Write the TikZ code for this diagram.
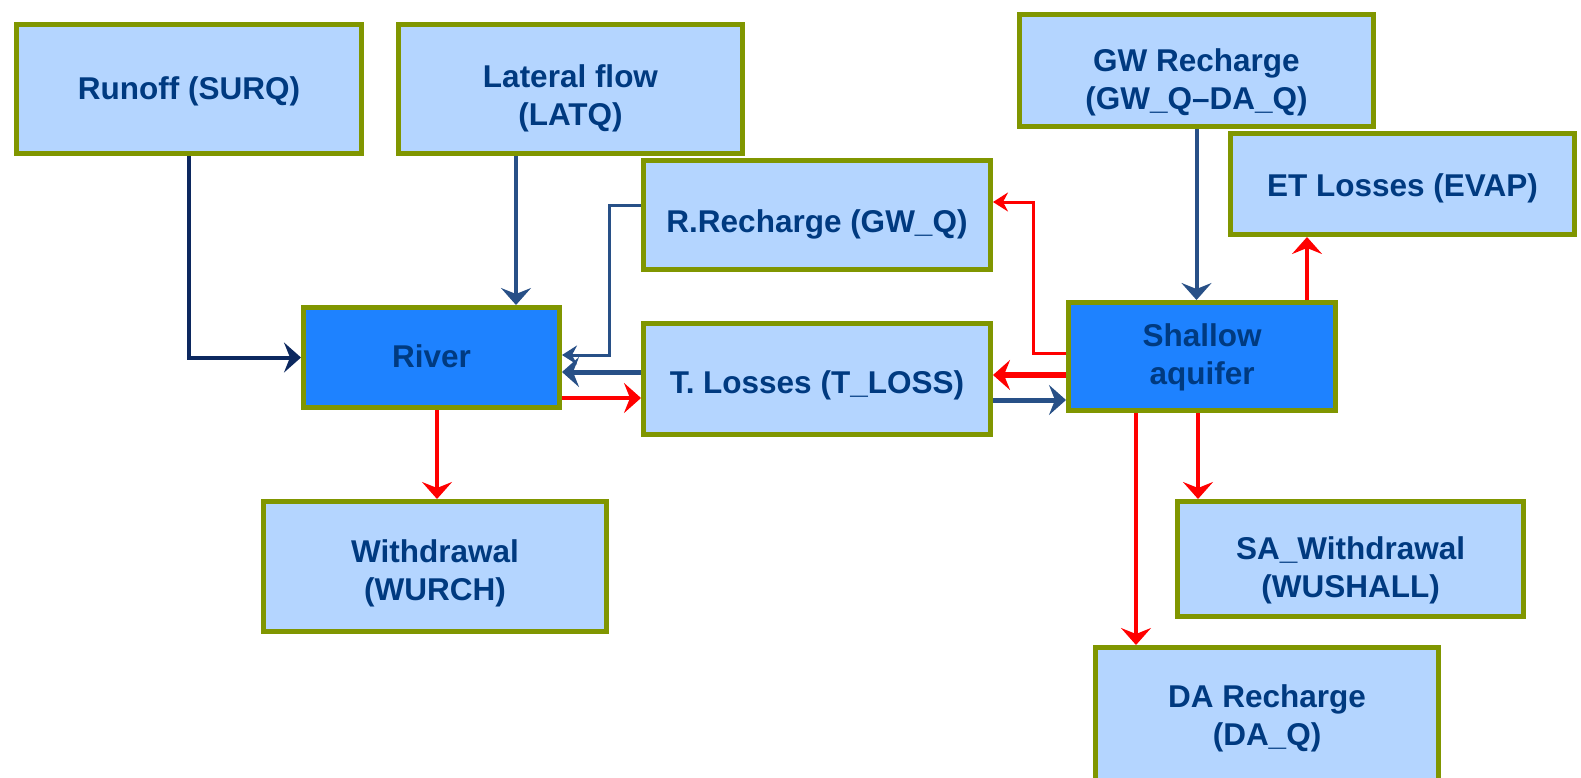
\documentclass[tikz,border=0pt]{standalone}
\usepackage{fontspec}
\setmainfont{Liberation Sans}
\usetikzlibrary{arrows.meta,calc}
\definecolor{boxfill}{RGB}{180,213,255}
\definecolor{darkfill}{RGB}{30,130,255}
\definecolor{olivebd}{RGB}{128,150,0}
\definecolor{txt}{RGB}{0,58,128}
\definecolor{navyarr}{RGB}{12,40,95}
\definecolor{steelarr}{RGB}{40,80,135}
\definecolor{redarr}{RGB}{255,0,0}
\newcommand{\boxtxt}[2]{\raisebox{#1}[\height][\depth]{\begin{tabular}{@{}c@{}}#2\end{tabular}}}
\begin{document}
\begin{tikzpicture}[x=1pt,y=-1pt,
  box/.style={draw=olivebd, line width=5pt, fill=boxfill, text=txt,
    font=\fontsize{31.5}{38}\selectfont\bfseries, align=center, inner sep=0pt},
  dbox/.style={box, fill=darkfill},
  arr/.style={-{Stealth[length=17pt,width=30pt,inset=6pt]}, line width=4pt},
  thinarr/.style={-{Stealth[length=15pt,width=19pt,inset=5pt]}, line width=3pt},
  navy/.style={arr, draw=navyarr},
  steel/.style={arr, draw=steelarr},
  red/.style={arr, draw=redarr}]
\useasboundingbox (0,0) rectangle (1581,777);

\node[box, minimum width=345pt, minimum height=129pt] (runoff) at (189,89) {\boxtxt{-3pt}{Runoff (SURQ)}};
\node[box, minimum width=344pt, minimum height=129pt] (lat) at (570.5,89) {\boxtxt{-10pt}{Lateral flow\\(LATQ)}};
\node[box, minimum width=354pt, minimum height=112pt] (gw) at (1196.5,70.5) {\boxtxt{-12pt}{GW Recharge\\(GW\_Q--DA\_Q)}};
\node[box, minimum width=344pt, minimum height=101pt] (et) at (1402.5,184) {\boxtxt{-5pt}{ET Losses (EVAP)}};
\node[box, minimum width=347pt, minimum height=109pt] (rr) at (817,215) {\boxtxt{-10pt}{R.Recharge (GW\_Q)}};
\node[dbox, minimum width=256pt, minimum height=100pt] (river) at (431.5,357.5) {\boxtxt{-2pt}{River}};
\node[box, minimum width=347pt, minimum height=111pt] (tl) at (817,379) {\boxtxt{-7pt}{T. Losses (T\_LOSS)}};
\node[dbox, minimum width=267pt, minimum height=108pt] (aq) at (1202,356.5) {\boxtxt{-1pt}{Shallow\\aquifer}};
\node[box, minimum width=343pt, minimum height=130pt] (wd) at (435,566.5) {\boxtxt{-7pt}{Withdrawal\\(WURCH)}};
\node[box, minimum width=346pt, minimum height=115pt] (saw) at (1350.5,559) {\boxtxt{-12pt}{SA\_Withdrawal\\(WUSHALL)}};
\node[box, minimum width=343pt, minimum height=135pt] (da) at (1267,715) {\boxtxt{-4pt}{DA Recharge\\(DA\_Q)}};

% river side
\draw[navy] (runoff.south) |- (river.west);
\draw[steel, line width=4.5pt] ([xshift=-54.5pt]lat.south) -- ([xshift=-54.5pt]lat.south |- river.north);
\draw[thinarr, draw=steelarr] ([yshift=10pt]rr.west) -| ([xshift=47.5pt,yshift=2.5pt]river.east) -- ([yshift=2.5pt]river.east);
\draw[steel, line width=5pt] ([yshift=7pt]tl.west) -- ([yshift=7pt]tl.west -| river.east);
\draw[red] ([yshift=-19pt]tl.west -| river.east) -- ([yshift=-19pt]tl.west);
\draw[red, line width=4.5pt] ([xshift=5.5pt]river.south) -- ([xshift=5.5pt]river.south |- wd.north);

% aquifer side
\draw[thinarr, draw=redarr] ([yshift=3.5pt]aq.west) -| ([xshift=40pt,yshift=13pt]rr.east) -- ([yshift=13pt]rr.east);
\draw[red, line width=6pt] ([yshift=4pt]tl.east -| aq.west) -- ([yshift=4pt]tl.east);
\draw[steel, line width=5pt] ([yshift=-21pt]tl.east) -- ([yshift=-21pt]tl.east -| aq.west);
\draw[steel] (gw.south) -- (gw.south |- aq.north);
\draw[red] ([xshift=105pt]aq.north) -- ([xshift=105pt]aq.north |- et.south);
\draw[red] ([xshift=-4pt]aq.south) -- ([xshift=-4pt]aq.south |- saw.north);
\draw[red, line width=4.5pt] ([xshift=-66pt]aq.south) -- ([xshift=-66pt]aq.south |- da.north);
\end{tikzpicture}
\end{document}
